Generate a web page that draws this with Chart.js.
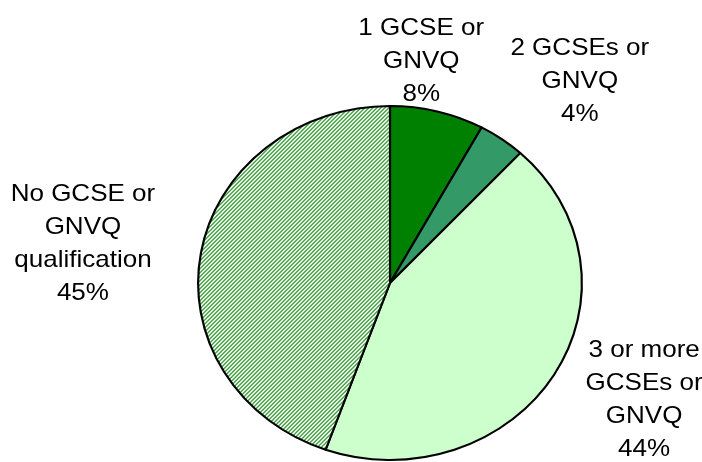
<!DOCTYPE html>
<html>
<head>
<meta charset="utf-8">
<script src="https://cdn.jsdelivr.net/npm/chart.js@4/dist/chart.umd.min.js"></script>
<style>
  html, body { margin: 0; padding: 0; background: #fff; }
  #wrap { width: 702px; height: 462px; }
</style>
</head>
<body>
<div id="wrap"><canvas id="pie" width="702" height="462"></canvas></div>
<script>
// ===== DATA =====
const categories = [
    ["1 GCSE or", "GNVQ"],
    ["2 GCSEs or", "GNVQ"],
    ["3 or more", "GCSEs or", "GNVQ"],
    ["No GCSE or", "GNVQ", "qualification"]
];
const shares = [8, 4, 44, 45];
const sliceColors = ['#008000', '#339966', '#ccffcc', null];

// label nudges from each slice's outer midpoint (x, y)
const labelNudge = [[-16, -50], [78, -58], [90, 25], [-118, -9]];

const STRETCH_X = 1.084;   // pie is a bit wider than tall
const LINE_H = 33;

// ===== HATCH FILL =====
// pixel stripes running "/" : 2px green, 2px white
function makeHatch() {
    const c = document.createElement('canvas');
    c.width = 4; c.height = 4;
    const g = c.getContext('2d');
    g.fillStyle = '#ffffff';
    g.fillRect(0, 0, 4, 4);
    g.fillStyle = '#45a545';
    for (let y = 0; y < 4; y++)
        for (let x = 0; x < 4; x++)
            if ((x + y) % 4 < 2) g.fillRect(x, y, 1, 1);
    const pat = g.createPattern(c, 'repeat');
    // undo the horizontal stretch so stripes stay pixel crisp
    pat.setTransform(new DOMMatrix().scale(1 / STRETCH_X, 1));
    return pat;
}

const ctx = document.getElementById('pie').getContext('2d');
sliceColors[3] = makeHatch();

// ===== PLUGINS =====
const stretchPie = {
    id: 'stretchPie',
    beforeDatasetsDraw(chart) {
        const arc = chart.getDatasetMeta(0).data[0];
        const c = chart.ctx;
        c.save();
        c.translate(arc.x, arc.y);
        c.scale(STRETCH_X, 1);
        c.translate(-arc.x, -arc.y);
    },
    afterDatasetsDraw(chart) {
        chart.ctx.restore();
    }
};

const sliceLabels = {
    id: 'sliceLabels',
    afterDraw(chart) {
        const c = chart.ctx;
        const meta = chart.getDatasetMeta(0);
        c.save();
        c.fillStyle = '#000';
        c.font = '24px "Liberation Sans", Arial, sans-serif';
        c.textAlign = 'center';
        c.textBaseline = 'middle';
        meta.data.forEach((arc, i) => {
            const p = arc.getProps(['x', 'y', 'startAngle', 'endAngle', 'outerRadius'], true);
            const mid = (p.startAngle + p.endAngle) / 2;
            const ax = p.x + Math.cos(mid) * p.outerRadius * STRETCH_X + labelNudge[i][0];
            const ay = p.y + Math.sin(mid) * p.outerRadius + labelNudge[i][1];
            const lines = categories[i].concat([shares[i] + '%']);
            const top = ay - (lines.length - 1) * LINE_H / 2;
            lines.forEach((txt, k) => {
                c.save();
                c.translate(ax, top + k * LINE_H);
                c.scale(STRETCH_X, 1);
                c.fillText(txt, 0, 0);
                c.restore();
            });
        });
        c.restore();
    }
};

// ===== CHART =====
new Chart(ctx, {
    type: 'pie',
    data: {
        labels: categories.map(l => l.join(' ')),
        datasets: [{
            data: shares,
            backgroundColor: sliceColors,
            borderColor: '#000',
            borderWidth: 2,
            hoverOffset: 0
        }]
    },
    options: {
        responsive: false,
        animation: false,
        events: [],
        rotation: 0,
        layout: { padding: { top: 105, bottom: 1, left: 212, right: 134 } },
        plugins: {
            legend: { display: false },
            tooltip: { enabled: false }
        }
    },
    plugins: [stretchPie, sliceLabels]
});
</script>
</body>
</html>
